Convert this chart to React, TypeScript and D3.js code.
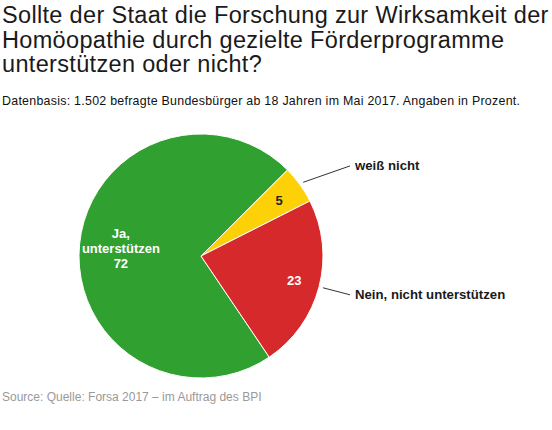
import React, { useEffect, useRef } from "react";
import * as d3 from "d3";

// Antworten im Uhrzeigersinn, beginnend mit "Ja"
const categories = ["Ja, unterstützen", "weiß nicht", "Nein, nicht unterstützen"];
const values = [72, 5, 23];
const colors = ["#30a030", "#fcd107", "#d6292b"];
const titleLines = [
  "Sollte der Staat die Forschung zur Wirksamkeit der",
  "Homöopathie durch gezielte Förderprogramme",
  "unterstützen oder nicht?",
];
const subtitle = "Datenbasis: 1.502 befragte Bundesbürger ab 18 Jahren im Mai 2017. Angaben in Prozent.";
const source = "Source: Quelle: Forsa 2017 – im Auftrag des BPI";

interface Slice {
  name: string;
  value: number;
  color: string;
}

const App: React.FC = () => {
  const svgRef = useRef<SVGSVGElement | null>(null);

  useEffect(() => {
    document.body.style.margin = "0";
    if (!svgRef.current) return;
    const width = 552;
    const height = 430;
    const svg = d3.select(svgRef.current);
    svg.selectAll("*").remove();
    svg.attr("width", width).attr("height", height);

    const font = "'Liberation Sans', Arial, Helvetica, sans-serif";

    // Titel
    svg
      .append("g")
      .selectAll("text")
      .data(titleLines)
      .enter()
      .append("text")
      .attr("x", 2)
      .attr("y", (_, i) => 23 + i * 24.5)
      .style("font-family", font)
      .style("font-size", "23.5px")
      .style("letter-spacing", "0.33px")
      .style("font-weight", 300)
      .style("fill", "#1a1a1a")
      .text((d) => d);

    svg
      .append("text")
      .attr("x", 2)
      .attr("y", 105)
      .style("font-family", font)
      .style("font-size", "12.4px")
      .style("letter-spacing", "0.27px")
      .style("fill", "#111")
      .text(subtitle);

    svg
      .append("text")
      .attr("x", 2)
      .attr("y", 401)
      .style("font-family", font)
      .style("font-size", "12px")
      .style("fill", "#999")
      .text(source);

    // Kreisdiagramm
    const cx = 201;
    const cy = 256;
    const r = 122;
    const data: Slice[] = categories.map((c, i) => ({ name: c, value: values[i], color: colors[i] }));

    const start = (146 * Math.PI) / 180;
    const pie = d3
      .pie<Slice>()
      .sort(null)
      .value((d) => d.value)
      .startAngle(start)
      .endAngle(start + 2 * Math.PI);
    const arcs = pie(data);

    const arc = d3.arc<d3.PieArcDatum<Slice>>().innerRadius(0).outerRadius(r);

    const g = svg.append("g").attr("transform", `translate(${cx}, ${cy})`);

    g.selectAll("path")
      .data(arcs)
      .enter()
      .append("path")
      .attr("d", arc)
      .attr("fill", (d) => d.data.color)
      .attr("stroke", "#fff")
      .attr("stroke-width", 1)
      .attr("stroke-linejoin", "round");

    const mid = (d: d3.PieArcDatum<Slice>) => (d.startAngle + d.endAngle) / 2;

    // Werte innen
    arcs.forEach((d) => {
      const a = mid(d);
      const lr = d.value > 50 ? r * 0.66 : r * 0.79;
      const x = Math.sin(a) * lr;
      const y = -Math.cos(a) * lr;
      const big = d.value > 50;
      const lines = big ? ["Ja,", "unterstützen", String(d.value)] : [String(d.value)];
      const t = g
        .append("text")
        .attr("text-anchor", "middle")
        .style("font-family", font)
        .style("font-size", "13px")
        .style("font-weight", "bold")
        .style("fill", d.value < 10 ? "#222" : "#fff");
      lines.forEach((ln, i) => {
        t.append("tspan")
          .attr("x", x)
          .attr("y", y + 5 + (i - (lines.length - 1) / 2) * 15)
          .text(ln);
      });
    });

    // Beschriftungen außen mit Verbindungslinien
    arcs
      .filter((d) => d.value < 50)
      .forEach((d) => {
        const a = mid(d);
        const x0 = Math.sin(a) * (r + 4);
        const y0 = -Math.cos(a) * (r + 4);
        const ly = -Math.cos(a) * (r + 32);
        const lx = 149;
        g.append("path")
          .attr("d", `M${x0},${y0}L${lx},${ly}`)
          .attr("fill", "none")
          .attr("stroke", "#333")
          .attr("stroke-width", 1);
        g.append("text")
          .attr("x", lx + 5)
          .attr("y", ly + 4.5)
          .style("font-family", font)
          .style("font-size", "13.2px")
          .style("font-weight", "bold")
          .style("fill", "#1a1a1a")
          .text(d.data.name);
      });
  }, []);

  return (
    <div style={{ width: 552, height: 430, background: "#fff" }}>
      <svg ref={svgRef}></svg>
    </div>
  );
};

export default App;
